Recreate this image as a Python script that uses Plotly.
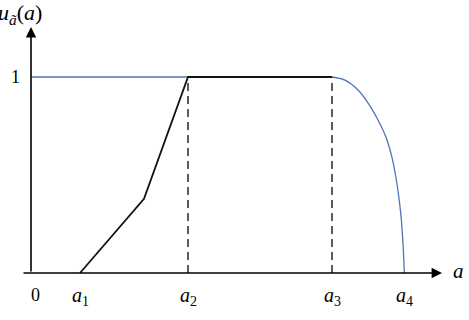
import plotly.graph_objects as go

# data (x in abstract units, y membership)
a_labels = ["1", "2", "3", "4"]
a_vals = [49, 157, 301, 373]
kink_x, kink_y = 113, 0.378

# black piecewise line: a1 -> kink -> a2 -> a3
black_x = [a_vals[0], kink_x, a_vals[1], a_vals[2]]
black_y = [0, kink_y, 1, 1]

# blue horizontal line from 0 to a2
blue_h_x = [0, a_vals[1]]
blue_h_y = [1, 1]

# blue curve a3 -> a4
curve_x = [301.3, 314, 327, 337.3, 347, 355, 360.5, 364.5, 367.5, 370, 372, 373.3]
curve_y = [1.0, 0.984, 0.934, 0.866, 0.781, 0.693, 0.6, 0.5, 0.4, 0.29, 0.15, 0.0]

fig = go.Figure()
fig.add_trace(go.Scatter(x=blue_h_x, y=blue_h_y, mode="lines",
                         line=dict(color="#4f74b8", width=1.3), hoverinfo="skip"))
fig.add_trace(go.Scatter(x=curve_x, y=curve_y, mode="lines", line_shape="spline",
                         line=dict(color="#4f74b8", width=1.3, smoothing=1.0), hoverinfo="skip"))
# dashed verticals
for xv in a_vals[1:3]:
    fig.add_trace(go.Scatter(x=[xv, xv], y=[0, 1], mode="lines",
                             line=dict(color="#333333", width=1.6, dash="8px,5px"),
                             hoverinfo="skip"))
fig.add_trace(go.Scatter(x=black_x, y=black_y, mode="lines",
                         line=dict(color="#111111", width=1.8), hoverinfo="skip"))

# axes with arrows
fig.add_annotation(x=411, y=0, ax=-9, ay=0, xref="x", yref="y", axref="x", ayref="y",
                   showarrow=True, arrowhead=2, arrowsize=1.3, arrowwidth=1.6,
                   arrowcolor="black", text="")
fig.add_annotation(x=0, y=1.255, ax=0, ay=0, xref="x", yref="y", axref="x", ayref="y",
                   showarrow=True, arrowhead=2, arrowsize=1.3, arrowwidth=1.6,
                   arrowcolor="black", text="")

serif = "Times New Roman"
# tick labels
fig.add_annotation(x=4, y=-0.11, text="0", showarrow=False,
                   font=dict(family=serif, size=18, color="black"))
for lbl, xv in zip(a_labels, a_vals):
    fig.add_annotation(x=xv, y=-0.12, text="<i>a</i><sub>" + lbl + "</sub>", showarrow=False,
                       font=dict(family=serif, size=20, color="black"))
fig.add_annotation(x=-16, y=1.0, text="1", showarrow=False,
                   font=dict(family=serif, size=18, color="black"))
fig.add_annotation(x=427, y=0.01, text="<i>a</i>", showarrow=False,
                   font=dict(family=serif, size=21, color="black"))
fig.add_annotation(x=-0.008, y=0.955, xref="paper", yref="paper", xanchor="left", yanchor="middle",
                   text="<i>u</i><sub><i>ã</i></sub>(<i>a</i>)", showarrow=False,
                   font=dict(family=serif, size=22, color="black"))

fig.update_layout(
    width=469, height=320, margin=dict(l=0, r=0, t=0, b=0),
    paper_bgcolor="white", plot_bgcolor="white", showlegend=False,
    xaxis=dict(range=[-31, 438], visible=False, fixedrange=True),
    yaxis=dict(range=[-0.240, 1.393], visible=False, fixedrange=True),
)
fig.write_html("out.html")
